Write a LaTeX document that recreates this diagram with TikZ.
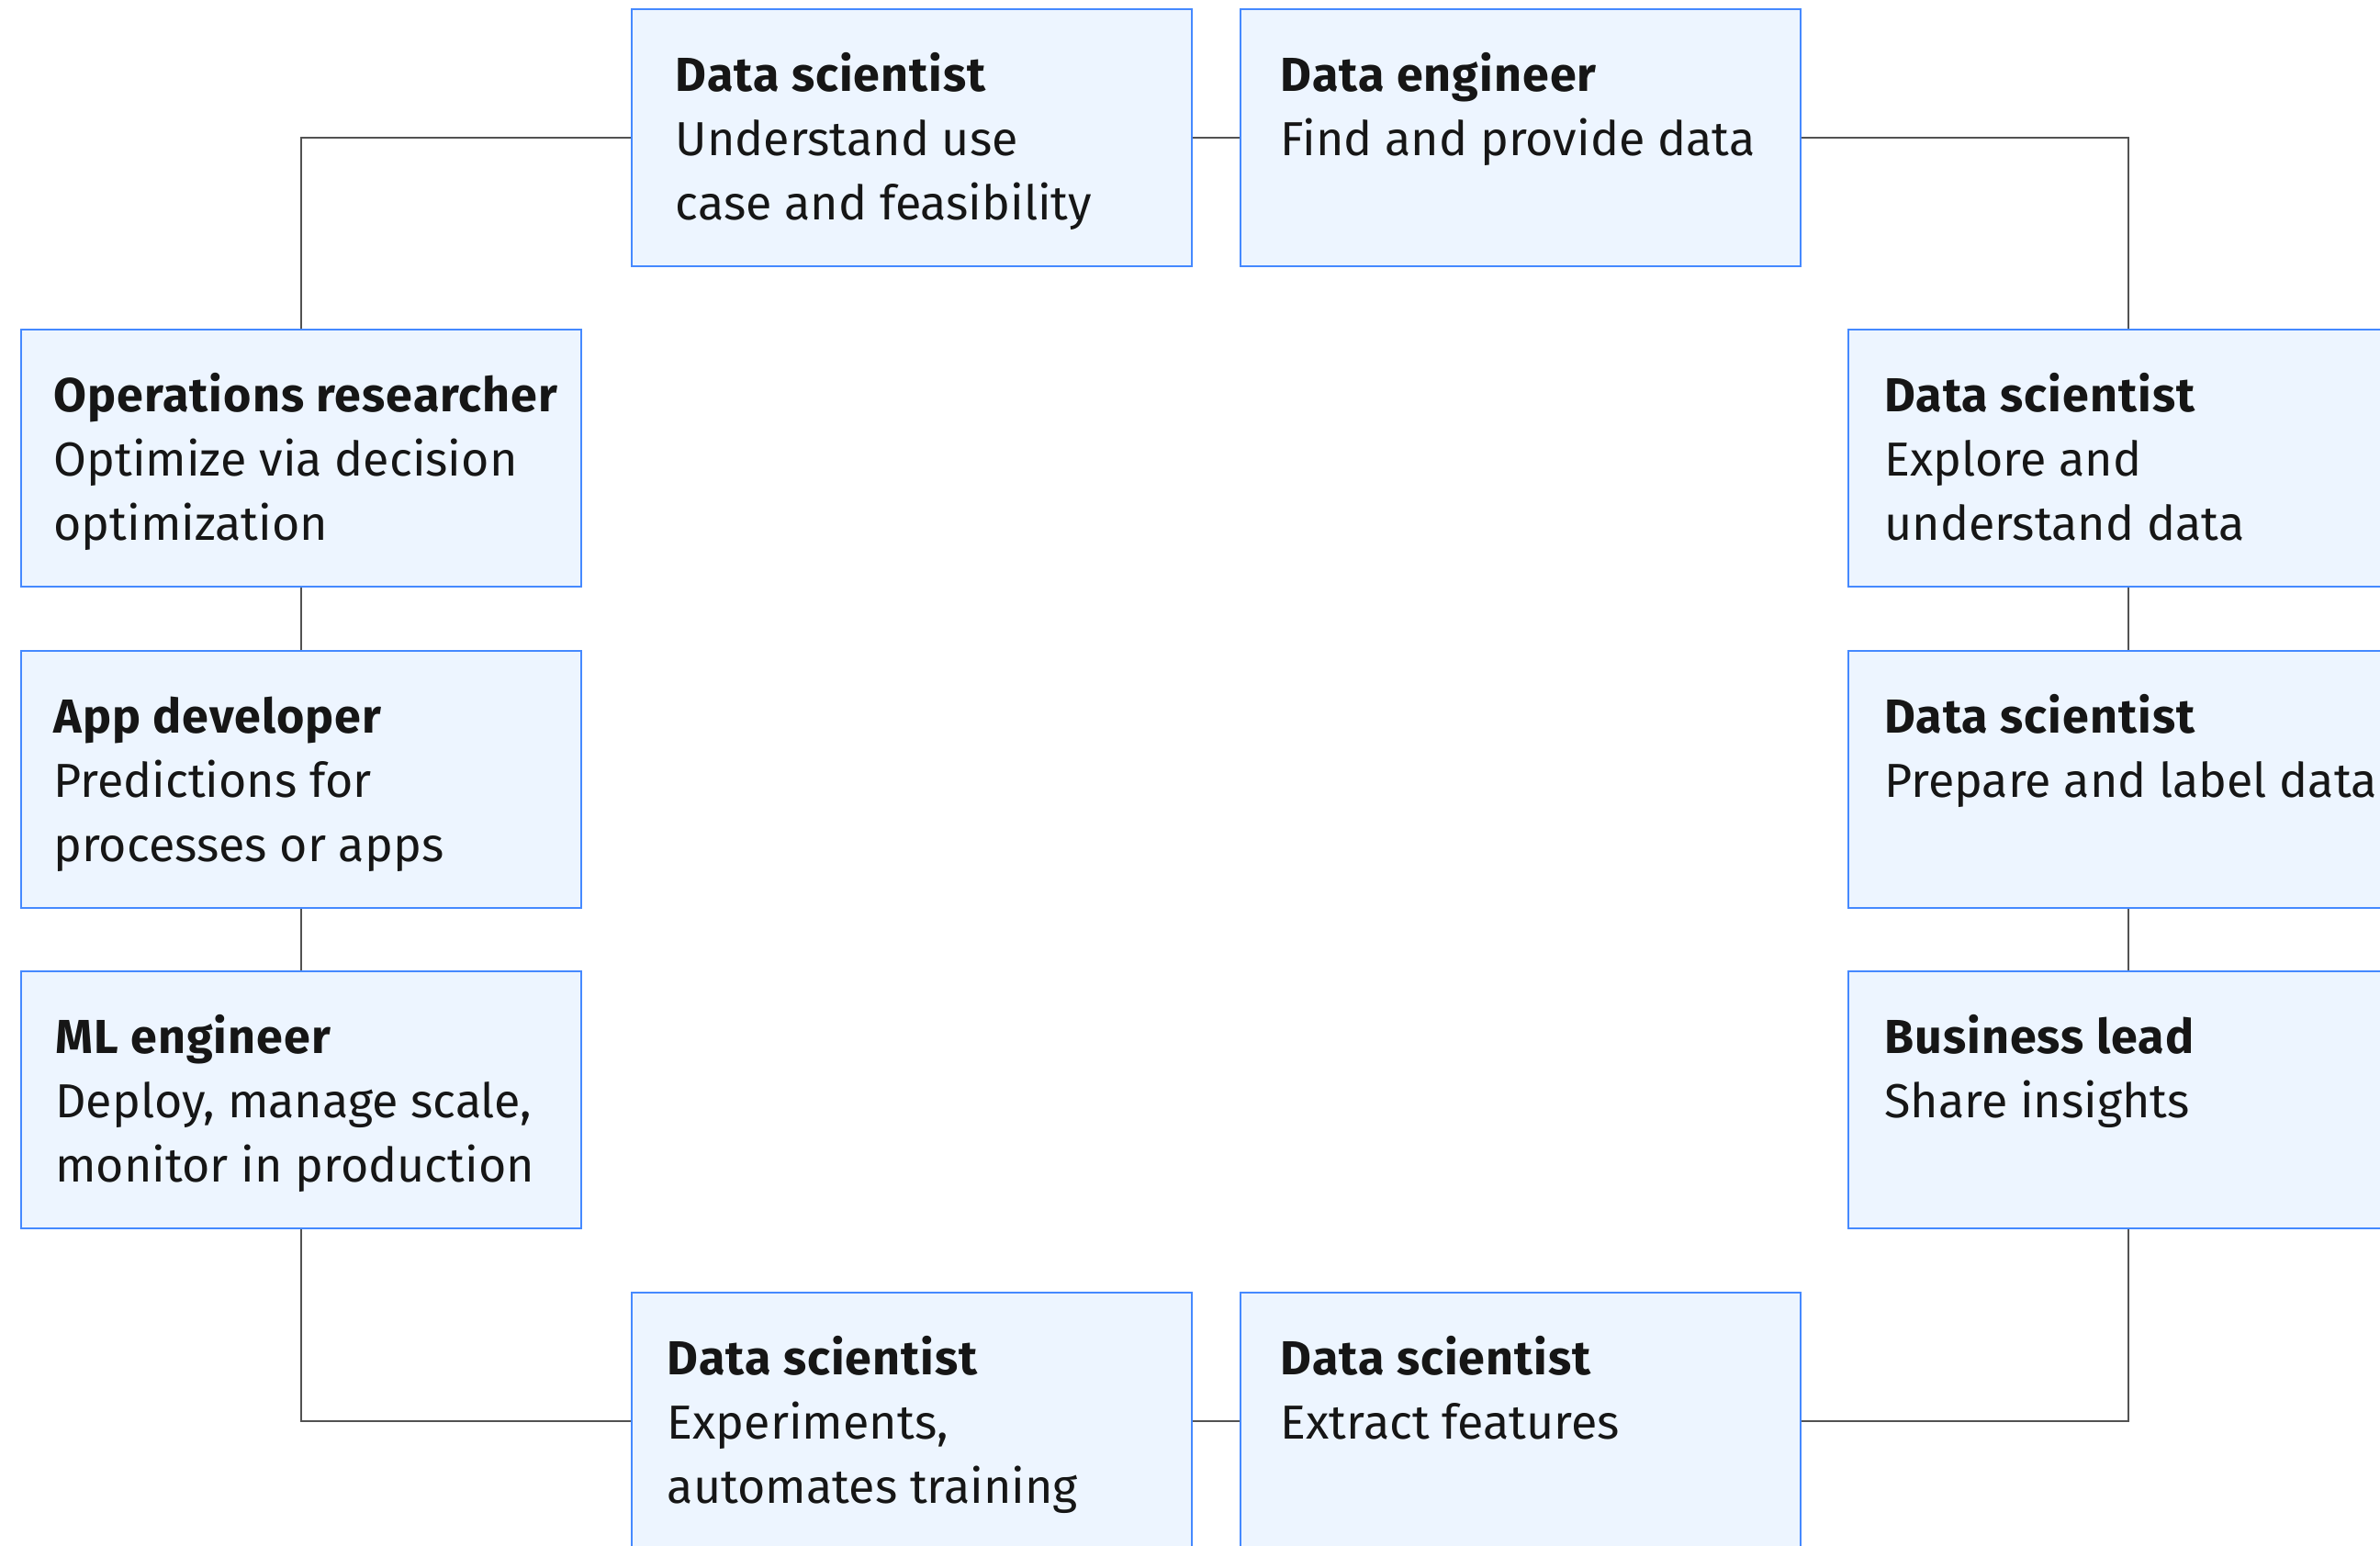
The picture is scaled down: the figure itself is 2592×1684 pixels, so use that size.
\documentclass[tikz,border=0pt]{standalone}
\usepackage{fontspec}
\setmainfont{Fira Sans}[BoldFeatures={LetterSpace=2.0}]
\usetikzlibrary{calc}
\definecolor{boxfill}{HTML}{EDF5FF}
\definecolor{boxline}{HTML}{4589FF}
\definecolor{connline}{HTML}{525252}
\definecolor{txt}{HTML}{161616}
\newcommand{\firstln}{\rule{0pt}{24pt}}
\tikzset{
  card/.style={draw=boxline, fill=boxfill, line width=1pt, rectangle, minimum width=305pt, minimum height=140pt, inner sep=0pt},
  lbl/.style={inner sep=0pt, align=left, text=txt, anchor=north west, font=\fontsize{26pt}{35pt}\selectfont},
  conn/.style={draw=connline, line width=1pt}
}
\begin{document}
\begin{tikzpicture}[x=0.5pt, y=-0.5pt]
\useasboundingbox (0,0) rectangle (2592,1684);
% boxes
\node[card] (t1) at (992.5,150.5) {};
\node[card] (t2) at (1655.5,150.5) {};
\node[card] (l1) at (328,499) {};
\node[card] (l2) at (328,849) {};
\node[card] (l3) at (328,1198) {};
\node[card] (r1) at (2318,499) {};
\node[card] (r2) at (2318,849) {};
\node[card] (r3) at (2318,1198) {};
\node[card] (b1) at (992.5,1548) {};
\node[card] (b2) at (1655.5,1548) {};
% texts
\node[lbl] (t1x) at ($(t1.north west)+(49,42)$) {\firstln\textbf{Data scientist}\\Understand use\\case and feasibility};
\node[lbl] (t2x) at ($(t2.north west)+(45,42)$) {\firstln\textbf{Data engineer}\\Find and provide data};
\node[lbl] (l1x) at ($(l1.north west)+(36,42)$) {\firstln\textbf{Operations researcher}\\Optimize via decision\\optimization};
\node[lbl] (l2x) at ($(l2.north west)+(36,42)$) {\firstln\textbf{App developer}\\Predictions for\\processes or apps};
\node[lbl] (l3x) at ($(l3.north west)+(38,42)$) {\firstln\textbf{ML engineer}\\Deploy, manage scale,\\monitor in production};
\node[lbl] (r1x) at ($(r1.north west)+(40,42)$) {\firstln\textbf{Data scientist}\\Explore and\\understand data};
\node[lbl] (r2x) at ($(r2.north west)+(40,42)$) {\firstln\textbf{Data scientist}\\Prepare and label data};
\node[lbl] (r3x) at ($(r3.north west)+(40,42)$) {\firstln\textbf{Business lead}\\Share insights};
\node[lbl] (b1x) at ($(b1.north west)+(40,42)$) {\firstln\textbf{Data scientist}\\Experiments,\\automates training};
\node[lbl] (b2x) at ($(b2.north west)+(45,42)$) {\firstln\textbf{Data scientist}\\Extract features};
% connectors
\draw[conn] (t1.west) -| (l1.north);
\draw[conn] (t1.east) -- (t2.west);
\draw[conn] (t2.east) -| (r1.north);
\draw[conn] (l1.south) -- (l2.north);
\draw[conn] (l2.south) -- (l3.north);
\draw[conn] (l3.south) |- (b1.west);
\draw[conn] (b1.east) -- (b2.west);
\draw[conn] (b2.east) -| (r3.south);
\draw[conn] (r1.south) -- (r2.north);
\draw[conn] (r2.south) -- (r3.north);
\end{tikzpicture}
\end{document}
